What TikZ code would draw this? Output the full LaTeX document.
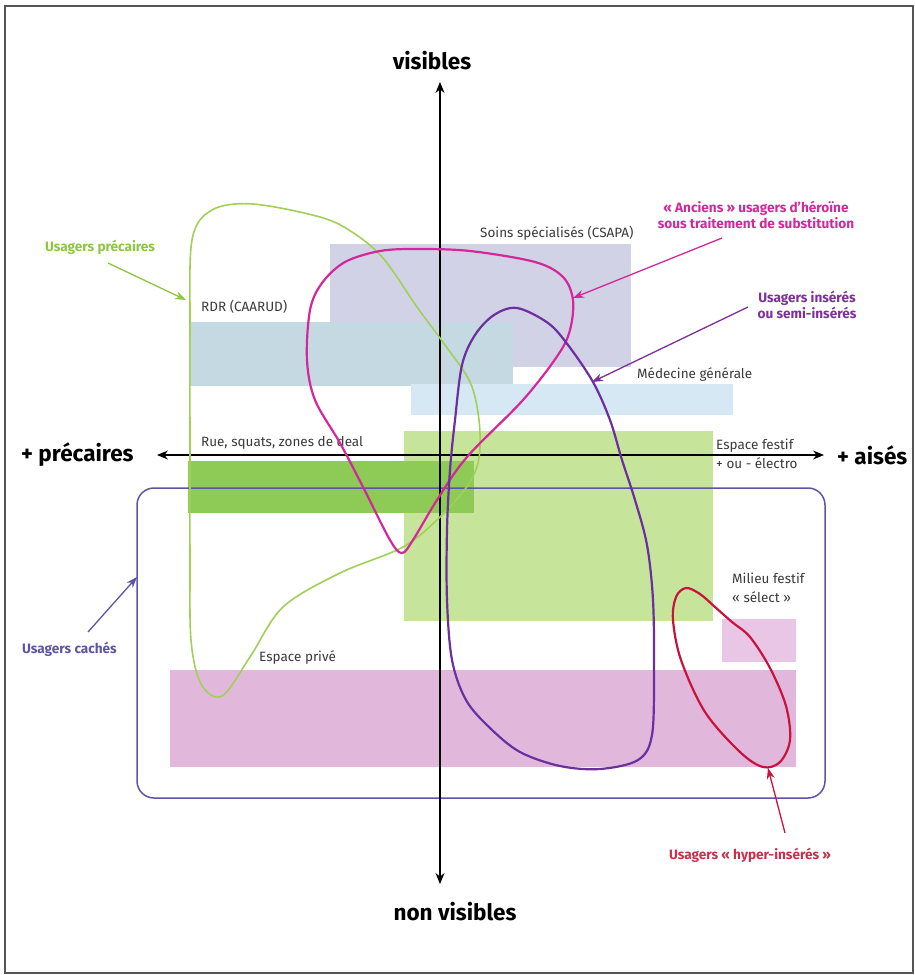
\documentclass[tikz,border=0pt]{standalone}
\usepackage{fontspec}
\setmainfont{Fira Sans}
\usetikzlibrary{arrows.meta}
\definecolor{framec}{HTML}{555555}
\definecolor{soinsc}{HTML}{D1D2E6}
\definecolor{rdrc}{HTML}{C4D9E1}
\definecolor{medc}{HTML}{D6E8F3}
\definecolor{festc}{HTML}{C6E59B}
\definecolor{ruec}{HTML}{8DCA56}
\definecolor{selc}{HTML}{E9C6E5}
\definecolor{privc}{HTML}{E1B8DC}
\definecolor{cachec}{HTML}{5E54A5}
\definecolor{greenc}{HTML}{A2CF58}
\definecolor{greenl}{HTML}{8DC63F}
\definecolor{magc}{HTML}{D4289A}
\definecolor{purc}{HTML}{6B2FA0}
\definecolor{purl}{HTML}{7D2F9A}
\definecolor{redc}{HTML}{C8143C}
\definecolor{redl}{HTML}{C8304C}
\definecolor{labgray}{HTML}{3A3A3A}
\begin{document}
\begin{tikzpicture}[x=1pt,y=-1pt,
  rlabel/.style={text=labgray,font=\fontsize{13.5}{18.5}\selectfont,inner sep=0pt,anchor=west,align=left},
  axlabel/.style={font=\fontsize{22.5}{26}\selectfont\bfseries,inner sep=0pt},
  clabel/.style={font=\fontsize{13.6}{16.8}\selectfont\bfseries,inner sep=0pt,align=center},
  ptr/.style={-{Stealth[length=11pt,width=8pt]},line width=1.3pt},
  axisline/.style={{Stealth[length=11pt,width=9pt]}-{Stealth[length=11pt,width=9pt]},line width=1.3pt},
  blob/.style={line width=2.2pt}]
\useasboundingbox (0,0) rectangle (915,975);
\draw[framec,line width=2pt] (5,6) rectangle (913,973);
% zones
\fill[soinsc] (330,244) rectangle (631,367);
\fill[rdrc] (190,322) rectangle (513,386);
\fill[medc] (411,384) rectangle (733,415);
\fill[festc] (404,431) rectangle (713,621);
\fill[ruec] (188,461) rectangle (474,513);
\fill[selc] (722,619) rectangle (796,662);
\fill[privc] (170,670) rectangle (796,767);
% zone labels
\node[rlabel] (soinsL) at (480,233) {Soins spécialisés (CSAPA)};
\node[rlabel] (rdrL) at (201,307) {RDR (CAARUD)};
\node[rlabel] (medL) at (637,375) {Médecine générale};
\node[rlabel] (rueL) at (201,443) {Rue, squats, zones de deal};
\node[rlabel] (festL) at (716,454) {Espace festif\\+ ou - électro};
\node[rlabel] (selL) at (732,588) {Milieu festif\\« sélect »};
\node[rlabel] (privL) at (259,658) {Espace privé};
% hidden users frame
\draw[cachec,line width=1.5pt,rounded corners=17pt] (137,488) rectangle (825,798);
% axes
\coordinate (axT) at (440,82);
\coordinate (axB) at (440,884);
\coordinate (axL) at (157,455);
\coordinate (axR) at (824,455);
\draw[axisline] (axB) -- (axT);
\draw[axisline] (axL) -- (axR);
\node[axlabel] (visL) at (432,61) {visibles};
\node[axlabel] (nvisL) at (455,912) {non visibles};
\node[axlabel,anchor=west] (precL) at (21,455) {+ précaires};
\node[axlabel,anchor=west] (aisL) at (837,455) {+ aisés};
% curves
\draw[greenc,line width=1.6pt] plot[smooth cycle,tension=0.55] coordinates {
 (253,204) (320,217) (352,232) (383,258) (417,307) (445,345) (470,382)
 (479,420) (479,458) (468,485) (440,517) (403,547) (340,573) (283,607)
 (250,657) (222,696) (201,684) (191,640) (190,560) (190,450) (190,330)
 (192,240) (212,210)};
\draw[magc,blob] plot[smooth cycle,tension=0.55] coordinates {
 (417,249) (470,251) (535,262) (563,277) (573,300) (570,330) (558,355)
 (523,400) (467,457) (437,500) (413,540) (402,553) (390,540) (363,487)
 (340,443) (315,400) (307,360) (310,310) (322,283) (345,262) (380,251)};
\draw[purc,blob] plot[smooth cycle,tension=0.55] coordinates {
 (517,308) (548,323) (568,345) (593,382) (610,420) (622,460) (635,500)
 (647,545) (653,600) (654,670) (652,735) (638,760) (600,769) (560,766)
 (520,752) (490,728) (466,700) (452,660) (447,600) (447,530) (450,470)
 (455,420) (462,365) (475,335) (494,315)};
\draw[redc,blob] plot[smooth cycle,tension=0.55] coordinates {
 (686,588) (700,594) (715,607) (732,622) (750,637) (770,668) (786,706)
 (790,740) (780,762) (763,767) (740,752) (705,712) (681,660) (673,620)
 (676,597)};
% user labels and pointers
\node[clabel,text=greenl,anchor=west] (precU) at (45,247) {Usagers précaires};
\coordinate (precS) at (108,263);
\coordinate (precE) at (186,300);
\draw[ptr,greenl] (precS) -- (precE);
\node[clabel,text=magc] (ancU) at (756,215) {« Anciens » usagers d'héroïne\\sous traitement de substitution};
\coordinate (ancS) at (722,238);
\coordinate (ancE) at (573,298);
\draw[ptr,magc] (ancS) -- (ancE);
\node[clabel,text=purl] (insU) at (807,305) {Usagers insérés\\ou semi-insérés};
\coordinate (insS) at (748,307);
\coordinate (insE) at (592,382);
\draw[ptr,purl] (insS) -- (insE);
\node[clabel,text=cachec,anchor=west] (cacU) at (22,649) {Usagers cachés};
\coordinate (cacS) at (88,632);
\coordinate (cacE) at (137,577);
\draw[ptr,cachec] (cacS) -- (cacE);
\node[clabel,text=redl] (hypU) at (750,855) {Usagers « hyper-insérés »};
\coordinate (hypS) at (785,833);
\coordinate (hypE) at (768,768);
\draw[ptr,redc] (hypS) -- (hypE);
\end{tikzpicture}
\end{document}
